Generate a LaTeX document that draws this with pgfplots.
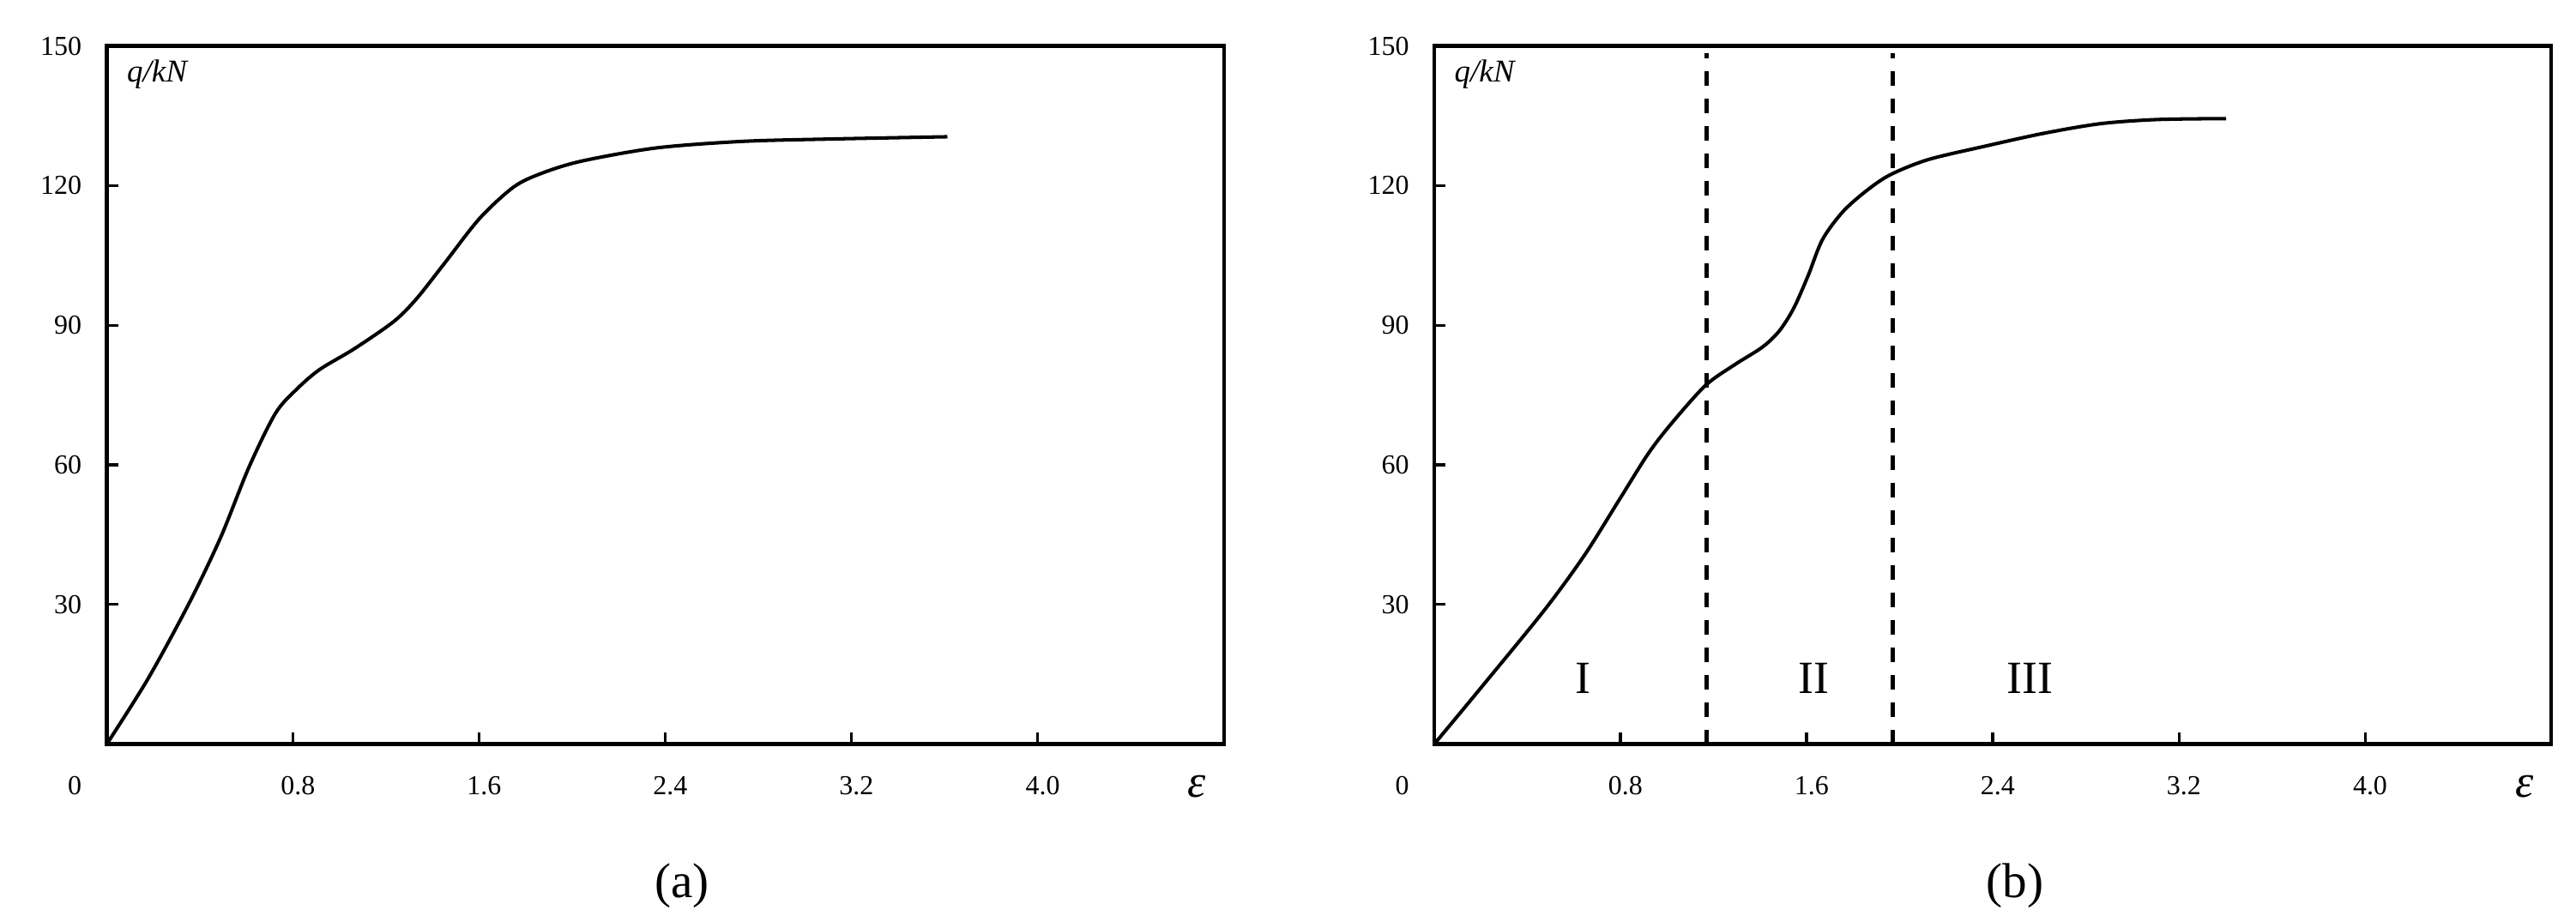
\documentclass[border=0pt]{standalone}
\usepackage{fontspec}
\setmainfont{Liberation Serif}
\usepackage{pgfplots}
\pgfplotsset{compat=1.18}

\pgfplotsset{
  strain/.style={
    scale only axis, width=13.6cm, height=8.5cm,
    xmin=0, xmax=4.8, ymin=0, ymax=150,
    axis line style={line width=1.3pt},
    xtick={0.8,1.6,2.4,3.2,4.0}, xticklabels={0.8,1.6,2.4,3.2,4.0},
    ytick={30,60,90,120,150}, yticklabels={30,60,90,120,150},
    tick align=inside, xtick pos=left, ytick pos=left,
    major tick length=4pt,
    tick style={line width=1pt, black},
    ticklabel style={font=\fontsize{9.5}{9.5}\selectfont, inner sep=0pt},
    xticklabel style={anchor=base, yshift=-0.62cm, xshift=0.06cm},
    yticklabel style={anchor=east, xshift=-0.3cm},
    clip=false,
  },
}
\tikzset{
  zero/.style={font=\fontsize{9.5}{9.5}\selectfont, anchor=base east, inner sep=0pt, xshift=-0.3cm, yshift=-0.62cm},
  eps/.style={font=\fontsize{16}{16}\selectfont\itshape, anchor=base, inner sep=0pt, yshift=-0.65cm},
  qlab/.style={font=\fontsize{11}{11}\selectfont\itshape, anchor=base west, inner sep=0pt, xshift=0.24cm, yshift=-0.44cm},
  capt/.style={font=\fontsize{17}{17}\selectfont, yshift=-1.72cm},
  stage/.style={font=\fontsize{16}{16}\selectfont},
}

\begin{document}
\begin{tikzpicture}
% (a)
\begin{axis}[strain, at={(0,0)}, anchor=south west]
\addplot[line width=1.2pt, smooth, black] coordinates {
  (0,0) (0.179,14.2) (0.355,30.4) (0.490,44.5) (0.610,59.4) (0.725,71.1)
  (0.817,76.3) (0.915,80.5) (1.062,84.9) (1.233,90.8) (1.331,95.7)
  (1.454,103.5) (1.601,112.9) (1.748,119.7) (1.871,122.7) (2.043,125.3)
  (2.361,128.1) (2.729,129.5) (3.097,130.0) (3.612,130.5)
};
\node[qlab] at (rel axis cs:0,1) {q/kN};
\node[zero] at (rel axis cs:0,0) {0};
\node[eps] at (rel axis cs:0.976,0) {ε};
\node[capt] at (rel axis cs:0.515,0) {(a)};
\end{axis}
% (b)
\begin{axis}[strain, at={(16.16cm,0)}, anchor=south west]
\addplot[line width=1.2pt, smooth, black] coordinates {
  (0,0) (0.204,12.3) (0.475,28.9) (0.647,40.7) (0.795,52.5) (0.918,62.3)
  (1.016,68.7) (1.164,77.0) (1.287,81.4) (1.410,85.3) (1.483,88.8)
  (1.545,93.7) (1.606,100.6) (1.668,108.4) (1.754,114.3) (1.852,118.7)
  (1.958,122.3) (2.123,125.6) (2.369,128.5) (2.615,131.2) (2.861,133.3)
  (3.107,134.2) (3.402,134.4)
};
\addplot[line width=1.5pt, black, dash pattern=on 5pt off 4.5pt] coordinates {(1.17,0) (1.17,148.5)};
\addplot[line width=1.5pt, black, dash pattern=on 5pt off 4.5pt] coordinates {(1.97,0) (1.97,148.5)};
\node[stage] at (axis cs:0.64,14.2) {I};
\node[stage] at (axis cs:1.63,14.2) {II};
\node[stage] at (axis cs:2.56,14.2) {III};
\node[qlab] at (rel axis cs:0,1) {q/kN};
\node[zero] at (rel axis cs:0,0) {0};
\node[eps] at (rel axis cs:0.976,0) {ε};
\node[capt] at (rel axis cs:0.52,0) {(b)};
\end{axis}
\path (-1.30,-2.16) rectangle (30.06,9.06);
\end{tikzpicture}
\end{document}
